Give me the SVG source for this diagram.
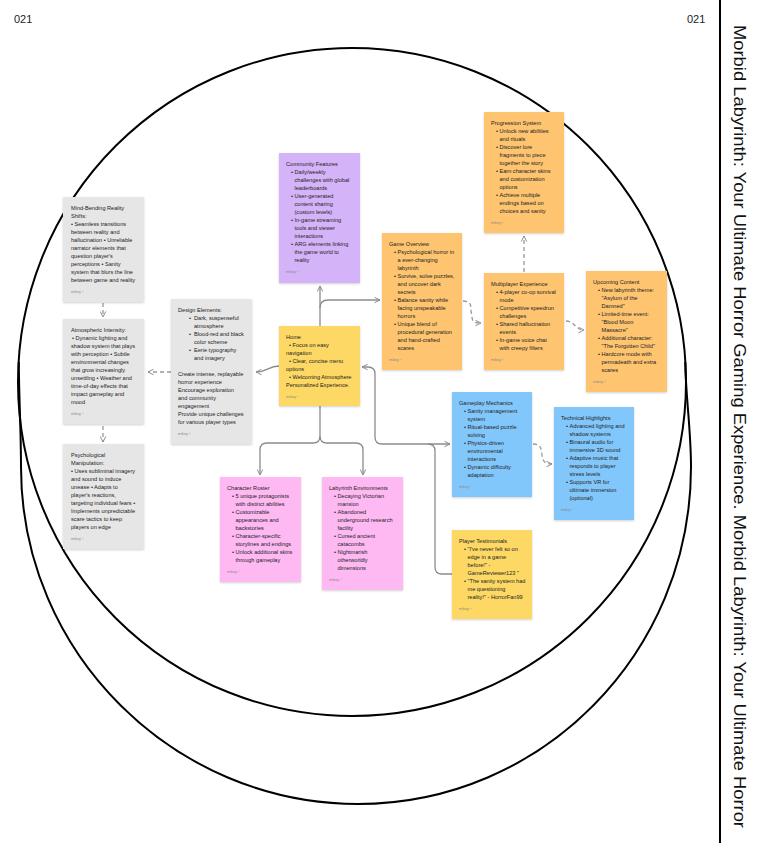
<svg xmlns="http://www.w3.org/2000/svg" width="765" height="843" viewBox="0 0 765 843">
<style>
.bg{fill:#ffffff}
.ring{fill:none;stroke:#000;stroke-width:2}
.card{filter:url(#sh)}
.gray{fill:#e6e6e6}
.purple{fill:#d5b3f8}
.orange{fill:#fec46f}
.yellow{fill:#fed865}
.blue{fill:#82c7fb}
.pink{fill:#feb9f2}
.t{font-family:"Liberation Sans",Arial,sans-serif;font-size:5.6px;fill:#222}
.m{font-family:"Liberation Sans",Arial,sans-serif;font-size:3.8px;fill:#8a8a8a}
.c{fill:none;stroke:#8c8c8c;stroke-width:1.3}
.d{fill:none;stroke:#9a9a9a;stroke-width:1.3;stroke-dasharray:4 3}
.num{font-family:"Liberation Sans",Arial,sans-serif;font-size:11px;fill:#222}
.side{font-family:"Liberation Sans",Arial,sans-serif;font-size:16.5px;fill:#111}
</style>
<defs>
<filter id="sh" x="-10%" y="-10%" width="130%" height="130%">
<feDropShadow dx="0" dy="1" stdDeviation="1" flood-color="#000" flood-opacity="0.18"/>
</filter>
<marker id="ah" viewBox="0 0 10 10" refX="9" refY="5" markerWidth="7" markerHeight="7" orient="auto-start-reverse" markerUnits="userSpaceOnUse">
<path d="M1,1 L9,5 L1,9" fill="none" stroke="#8c8c8c" stroke-width="1.4"/>
</marker>
</defs>
<rect class="bg" x="0" y="0" width="765" height="843"/>
<g id="frame">
<ellipse class="ring" cx="352" cy="382" rx="334" ry="334"/>
<path class="ring" d="M18.8,362 C19,400 21,430 21,467 C21,653 174,804 358,804 C542,804 691,653 691,467 C691,430 686,400 685.2,362"/>
<line x1="720" y1="0" x2="720" y2="843" stroke="#000" stroke-width="2"/>
<text class="num" x="14" y="23">021</text>
<text class="num" x="687" y="23">021</text>
<text class="side" transform="translate(734,25) rotate(90)" textLength="803" lengthAdjust="spacingAndGlyphs">Morbid Labyrinth: Your Ultimate Horror Gaming Experience. Morbid Labyrinth: Your Ultimate Horror</text>
</g>
<g id="connectors">
<path class="c" d="M320,326 V286" marker-end="url(#ah)"/>
<path class="c" d="M320,308 Q320,300 328,300 H380" marker-end="url(#ah)"/>
<path class="c" d="M279,366 C268,366 268,372 256,372" marker-end="url(#ah)"/>
<path class="c" d="M320,406 V436 Q320,443 313,443 H267 Q260,443 260,450 V475" marker-end="url(#ah)"/>
<path class="c" d="M320,436 Q320,443 327,443 H356 Q363,443 363,450 V475" marker-end="url(#ah)"/>
<path class="c" d="M362,367 H368 Q375,367 375,374 V437 Q375,444 382,444 H450" marker-start="url(#ah)" marker-end="url(#ah)"/>
<path class="c" d="M428,444 Q435,444 435,451 V567 Q435,574 442,574 H452"/>
<path class="d" d="M463,301 C471,301 471,305 471,311 L472,316 C472,322 474,323 481,323" marker-end="url(#ah)"/>
<path class="d" d="M524,272 V236" marker-end="url(#ah)"/>
<path class="d" d="M566,321 C575,321 575,330 584,330" marker-end="url(#ah)"/>
<path class="d" d="M533,444 C541,444 541,448 542,455 C543,462 545,464 552,464" marker-end="url(#ah)"/>
<path class="d" d="M171,372 H148" marker-end="url(#ah)"/>
<path class="d" d="M103,303 V317" marker-end="url(#ah)"/>
<path class="d" d="M103,426 V442" marker-end="url(#ah)"/>
</g>
<g id="mind-bending">
<rect class="card gray" x="63" y="197" width="81" height="105"/>
<text class="t"><tspan x="71" y="210">Mind-Bending Reality</tspan><tspan x="71" y="218">Shifts:</tspan><tspan x="71" y="226">• Seamless transitions</tspan><tspan x="71" y="234">between reality and</tspan><tspan x="71" y="242">hallucination • Unreliable</tspan><tspan x="71" y="250">narrator elements that</tspan><tspan x="71" y="258">question player's</tspan><tspan x="71" y="266">perceptions • Sanity</tspan><tspan x="71" y="274">system that blurs the line</tspan><tspan x="71" y="282">between game and reality</tspan></text>
<text class="m" x="71" y="293">mikey ›</text>
</g>
<g id="atmospheric">
<rect class="card gray" x="63" y="319" width="81" height="105"/>
<text class="t"><tspan x="71" y="332">Atmospheric Intensity:</tspan><tspan x="72" y="340">• Dynamic lighting and</tspan><tspan x="71" y="348">shadow system that plays</tspan><tspan x="71" y="356">with perception • Subtle</tspan><tspan x="71" y="364">environmental changes</tspan><tspan x="71" y="372">that grow increasingly</tspan><tspan x="71" y="380">unsettling • Weather and</tspan><tspan x="71" y="388">time-of-day effects that</tspan><tspan x="71" y="396">impact gameplay and</tspan><tspan x="71" y="404">mood</tspan></text>
<text class="m" x="71" y="415">mikey ›</text>
</g>
<g id="psychological">
<rect class="card gray" x="63" y="444" width="81" height="105"/>
<text class="t"><tspan x="71" y="457">Psychological</tspan><tspan x="71" y="465">Manipulation:</tspan><tspan x="71" y="473">• Uses subliminal imagery</tspan><tspan x="71" y="481">and sound to induce</tspan><tspan x="71" y="489">unease • Adapts to</tspan><tspan x="71" y="497">player's reactions,</tspan><tspan x="71" y="505">targeting individual fears •</tspan><tspan x="71" y="513">Implements unpredictable</tspan><tspan x="71" y="521">scare tactics to keep</tspan><tspan x="71" y="529">players on edge</tspan></text>
<text class="m" x="71" y="540">mikey ›</text>
</g>
<g id="design-elements">
<rect class="card gray" x="171" y="299" width="81" height="145"/>
<text class="t"><tspan x="178" y="312">Design Elements:</tspan><tspan x="189" y="320">•</tspan><tspan x="194" y="320">Dark, suspenseful</tspan><tspan x="194" y="328">atmosphere</tspan><tspan x="189" y="336">•</tspan><tspan x="194" y="336">Blood-red and black</tspan><tspan x="194" y="344">color scheme</tspan><tspan x="189" y="352">•</tspan><tspan x="194" y="352">Eerie typography</tspan><tspan x="194" y="360">and imagery</tspan><tspan x="178" y="376">Create intense, replayable</tspan><tspan x="178" y="384">horror experience</tspan><tspan x="178" y="392">Encourage exploration</tspan><tspan x="178" y="400">and community</tspan><tspan x="178" y="408">engagement</tspan><tspan x="178" y="416">Provide unique challenges</tspan><tspan x="178" y="424">for various player types</tspan></text>
<text class="m" x="178" y="435">mikey ›</text>
</g>
<g id="community-features">
<rect class="card purple" x="279" y="153" width="81" height="130"/>
<text class="t"><tspan x="286" y="166">Community Features</tspan><tspan x="291" y="174">•</tspan><tspan x="294.5" y="174">Daily/weekly</tspan><tspan x="294.5" y="182">challenges with global</tspan><tspan x="294.5" y="190">leaderboards</tspan><tspan x="291" y="198">•</tspan><tspan x="294.5" y="198">User-generated</tspan><tspan x="294.5" y="206">content sharing</tspan><tspan x="294.5" y="214">(custom levels)</tspan><tspan x="291" y="222">•</tspan><tspan x="294.5" y="222">In-game streaming</tspan><tspan x="294.5" y="230">tools and viewer</tspan><tspan x="294.5" y="238">interactions</tspan><tspan x="291" y="246">•</tspan><tspan x="294.5" y="246">ARG elements linking</tspan><tspan x="294.5" y="254">the game world to</tspan><tspan x="294.5" y="262">reality</tspan></text>
<text class="m" x="286" y="273">mikey ›</text>
</g>
<g id="home">
<rect class="card yellow" x="279" y="326" width="81" height="80"/>
<text class="t"><tspan x="286" y="339">Home</tspan><tspan x="289" y="347">• Focus on easy</tspan><tspan x="286" y="355">navigation</tspan><tspan x="289" y="363">• Clear, concise menu</tspan><tspan x="286" y="371">options</tspan><tspan x="289" y="379">• Welcoming Atmosphere</tspan><tspan x="286" y="387">Personalized Experience.</tspan></text>
<text class="m" x="286" y="398">mikey ›</text>
</g>
<g id="game-overview">
<rect class="card orange" x="382" y="233" width="80" height="137"/>
<text class="t"><tspan x="389" y="246">Game Overview</tspan><tspan x="394" y="254">•</tspan><tspan x="397.5" y="254">Psychological horror in</tspan><tspan x="397.5" y="262">a ever-changing</tspan><tspan x="397.5" y="270">labyrinth</tspan><tspan x="394" y="278">•</tspan><tspan x="397.5" y="278">Survive, solve puzzles,</tspan><tspan x="397.5" y="286">and uncover dark</tspan><tspan x="397.5" y="294">secrets</tspan><tspan x="394" y="302">•</tspan><tspan x="397.5" y="302">Balance sanity while</tspan><tspan x="397.5" y="310">facing unspeakable</tspan><tspan x="397.5" y="318">horrors</tspan><tspan x="394" y="326">•</tspan><tspan x="397.5" y="326">Unique blend of</tspan><tspan x="397.5" y="334">procedural generation</tspan><tspan x="397.5" y="342">and hand-crafted</tspan><tspan x="397.5" y="350">scares</tspan></text>
<text class="m" x="389" y="361">mikey ›</text>
</g>
<g id="progression-system">
<rect class="card orange" x="484" y="112" width="80" height="121"/>
<text class="t"><tspan x="491" y="125">Progression System</tspan><tspan x="496" y="133">•</tspan><tspan x="499.5" y="133">Unlock new abilities</tspan><tspan x="499.5" y="141">and rituals</tspan><tspan x="496" y="149">•</tspan><tspan x="499.5" y="149">Discover lore</tspan><tspan x="499.5" y="157">fragments to piece</tspan><tspan x="499.5" y="165">together the story</tspan><tspan x="496" y="173">•</tspan><tspan x="499.5" y="173">Earn character skins</tspan><tspan x="499.5" y="181">and customization</tspan><tspan x="499.5" y="189">options</tspan><tspan x="496" y="197">•</tspan><tspan x="499.5" y="197">Achieve multiple</tspan><tspan x="499.5" y="205">endings based on</tspan><tspan x="499.5" y="213">choices and sanity</tspan></text>
<text class="m" x="491" y="224">mikey ›</text>
</g>
<g id="multiplayer-experience">
<rect class="card orange" x="484" y="273" width="80" height="97"/>
<text class="t"><tspan x="491" y="286">Multiplayer Experience</tspan><tspan x="496" y="294">•</tspan><tspan x="499.5" y="294">4-player co-op survival</tspan><tspan x="499.5" y="302">mode</tspan><tspan x="496" y="310">•</tspan><tspan x="499.5" y="310">Competitive speedrun</tspan><tspan x="499.5" y="318">challenges</tspan><tspan x="496" y="326">•</tspan><tspan x="499.5" y="326">Shared hallucination</tspan><tspan x="499.5" y="334">events</tspan><tspan x="496" y="342">•</tspan><tspan x="499.5" y="342">In-game voice chat</tspan><tspan x="499.5" y="350">with creepy filters</tspan></text>
<text class="m" x="491" y="361">mikey ›</text>
</g>
<g id="upcoming-content">
<rect class="card orange" x="586" y="271" width="81" height="121"/>
<text class="t"><tspan x="593" y="284">Upcoming Content</tspan><tspan x="598" y="292">•</tspan><tspan x="601.5" y="292">New labyrinth theme:</tspan><tspan x="601.5" y="300">"Asylum of the</tspan><tspan x="601.5" y="308">Damned"</tspan><tspan x="598" y="316">•</tspan><tspan x="601.5" y="316">Limited-time event:</tspan><tspan x="601.5" y="324">"Blood Moon</tspan><tspan x="601.5" y="332">Massacre"</tspan><tspan x="598" y="340">•</tspan><tspan x="601.5" y="340">Additional character:</tspan><tspan x="601.5" y="348">"The Forgotten Child"</tspan><tspan x="598" y="356">•</tspan><tspan x="601.5" y="356">Hardcore mode with</tspan><tspan x="601.5" y="364">permadeath and extra</tspan><tspan x="601.5" y="372">scares</tspan></text>
<text class="m" x="593" y="383">mikey ›</text>
</g>
<g id="gameplay-mechanics">
<rect class="card blue" x="452" y="392" width="80" height="105"/>
<text class="t"><tspan x="459" y="405">Gameplay Mechanics</tspan><tspan x="464" y="413">•</tspan><tspan x="467.5" y="413">Sanity management</tspan><tspan x="467.5" y="421">system</tspan><tspan x="464" y="429">•</tspan><tspan x="467.5" y="429">Ritual-based puzzle</tspan><tspan x="467.5" y="437">solving</tspan><tspan x="464" y="445">•</tspan><tspan x="467.5" y="445">Physics-driven</tspan><tspan x="467.5" y="453">environmental</tspan><tspan x="467.5" y="461">interactions</tspan><tspan x="464" y="469">•</tspan><tspan x="467.5" y="469">Dynamic difficulty</tspan><tspan x="467.5" y="477">adaptation</tspan></text>
<text class="m" x="459" y="488">mikey ›</text>
</g>
<g id="technical-highlights">
<rect class="card blue" x="554" y="407" width="80" height="113"/>
<text class="t"><tspan x="561" y="420">Technical Highlights</tspan><tspan x="566" y="428">•</tspan><tspan x="569.5" y="428">Advanced lighting and</tspan><tspan x="569.5" y="436">shadow systems</tspan><tspan x="566" y="444">•</tspan><tspan x="569.5" y="444">Binaural audio for</tspan><tspan x="569.5" y="452">immersive 3D sound</tspan><tspan x="566" y="460">•</tspan><tspan x="569.5" y="460">Adaptive music that</tspan><tspan x="569.5" y="468">responds to player</tspan><tspan x="569.5" y="476">stress levels</tspan><tspan x="566" y="484">•</tspan><tspan x="569.5" y="484">Supports VR for</tspan><tspan x="569.5" y="492">ultimate immersion</tspan><tspan x="569.5" y="500">(optional)</tspan></text>
<text class="m" x="561" y="511">mikey ›</text>
</g>
<g id="player-testimonials">
<rect class="card yellow" x="452" y="530" width="80" height="89"/>
<text class="t"><tspan x="459" y="543">Player Testimonials</tspan><tspan x="464" y="551">•</tspan><tspan x="467.5" y="551">"I've never felt so on</tspan><tspan x="467.5" y="559">edge in a game</tspan><tspan x="467.5" y="567">before!" -</tspan><tspan x="467.5" y="575">GameReviewer123 "</tspan><tspan x="464" y="583">•</tspan><tspan x="467.5" y="583">"The sanity system had</tspan><tspan x="467.5" y="591">me questioning</tspan><tspan x="467.5" y="599">reality!" - HorrorFan99</tspan></text>
<text class="m" x="459" y="610">mikey ›</text>
</g>
<g id="character-roster">
<rect class="card pink" x="220" y="477" width="81" height="105"/>
<text class="t"><tspan x="227" y="490">Character Roster</tspan><tspan x="232" y="498">•</tspan><tspan x="235.5" y="498">5 unique protagonists</tspan><tspan x="235.5" y="506">with distinct abilities</tspan><tspan x="232" y="514">•</tspan><tspan x="235.5" y="514">Customizable</tspan><tspan x="235.5" y="522">appearances and</tspan><tspan x="235.5" y="530">backstories</tspan><tspan x="232" y="538">•</tspan><tspan x="235.5" y="538">Character-specific</tspan><tspan x="235.5" y="546">storylines and endings</tspan><tspan x="232" y="554">•</tspan><tspan x="235.5" y="554">Unlock additional skins</tspan><tspan x="235.5" y="562">through gameplay</tspan></text>
<text class="m" x="227" y="573">mikey ›</text>
</g>
<g id="labyrinth-environments">
<rect class="card pink" x="322" y="477" width="81" height="113"/>
<text class="t"><tspan x="329" y="490">Labyrinth Environments</tspan><tspan x="334" y="498">•</tspan><tspan x="337.5" y="498">Decaying Victorian</tspan><tspan x="337.5" y="506">mansion</tspan><tspan x="334" y="514">•</tspan><tspan x="337.5" y="514">Abandoned</tspan><tspan x="337.5" y="522">underground research</tspan><tspan x="337.5" y="530">facility</tspan><tspan x="334" y="538">•</tspan><tspan x="337.5" y="538">Cursed ancient</tspan><tspan x="337.5" y="546">catacombs</tspan><tspan x="334" y="554">•</tspan><tspan x="337.5" y="554">Nightmarish</tspan><tspan x="337.5" y="562">otherworldly</tspan><tspan x="337.5" y="570">dimensions</tspan></text>
<text class="m" x="329" y="581">mikey ›</text>
</g>
</svg>
